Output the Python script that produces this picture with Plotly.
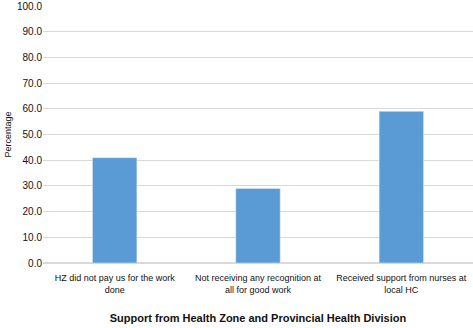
import plotly.graph_objects as go

categories = ["HZ did not pay us for the work<br>done",
              "Not receiving any recognition at<br>all for good work",
              "Received support from nurses at<br>local HC"]
values = [41.0, 29.0, 59.0]
y_ticks = [0, 10, 20, 30, 40, 50, 60, 70, 80, 90, 100]

FONT = "Liberation Sans, Arial, sans-serif"

fig = go.Figure(go.Bar(x=categories, y=values, marker_color="#5b9bd5", width=0.31))
fig.update_layout(
    width=473, height=328,
    margin=dict(l=43, r=0, t=6, b=65),
    plot_bgcolor="white", paper_bgcolor="white",
    font=dict(family=FONT, size=10, color="#111"),
    showlegend=False,
)
fig.update_yaxes(range=[0, 100], tickvals=y_ticks, ticktext=[f"{v:.1f}" for v in y_ticks],
                 gridcolor="#d9d9d9", zeroline=True, zerolinecolor="#d9d9d9",
                 title=dict(text="Percentage", font=dict(size=9), standoff=3), ticks="",
                 tickfont=dict(size=10))
fig.update_xaxes(tickangle=0, ticklabelstandoff=8,
                 title=dict(text="<b>Support from Health Zone and Provincial Health Division</b>",
                            font=dict(size=11), standoff=20), tickfont=dict(size=9))
fig.write_html("out.html", post_script="document.body.style.margin='0';",
               config={"displayModeBar": False})
